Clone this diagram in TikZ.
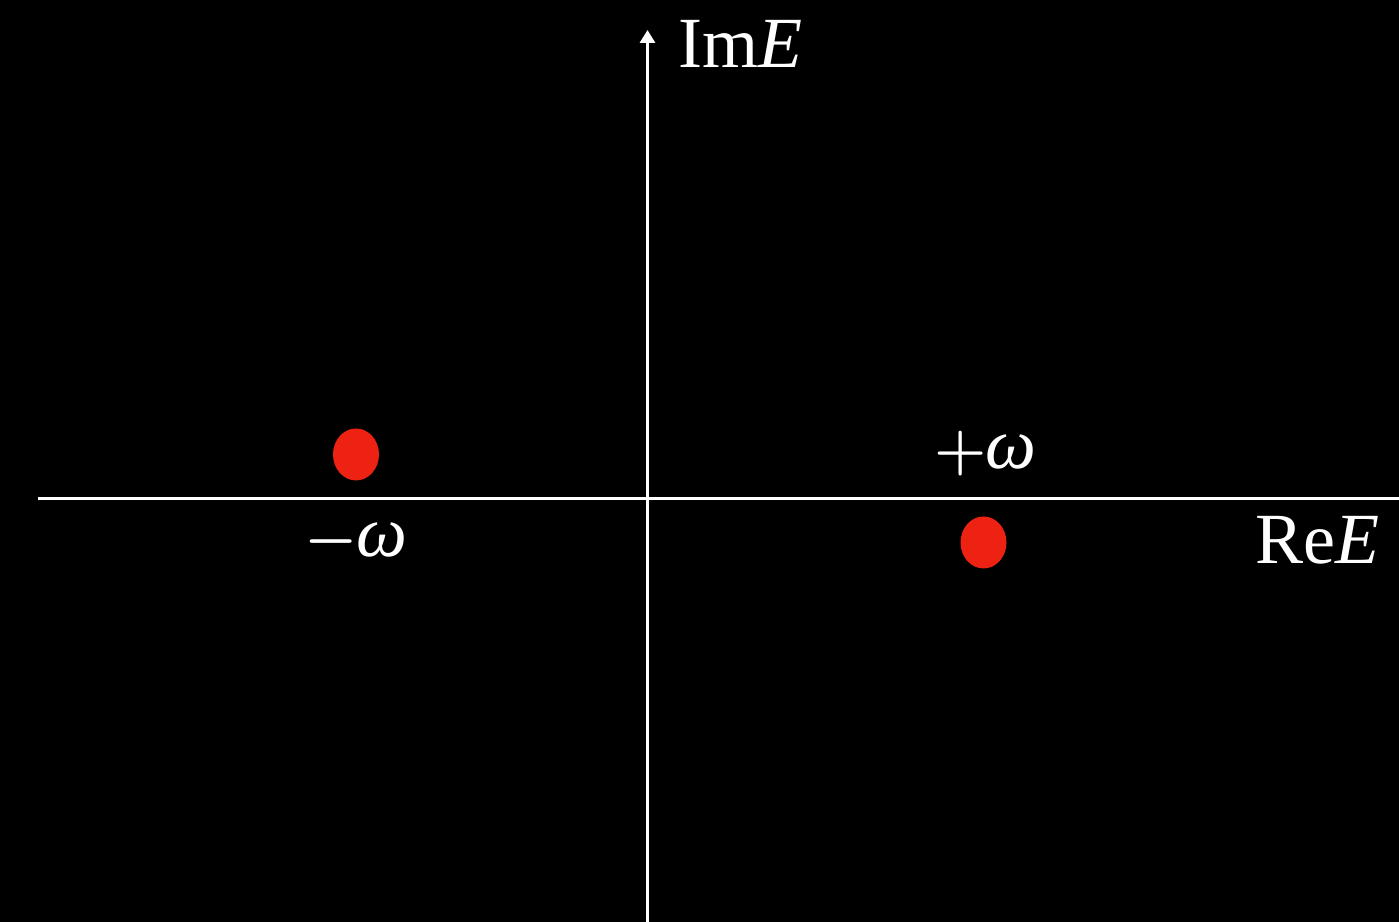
\RequirePackage{fix-cm}
\documentclass[tikz,border=0pt]{standalone}
\usepackage{fontspec}
\setmainfont{Liberation Serif}
\usetikzlibrary{arrows.meta,shapes.geometric}
\definecolor{dotred}{RGB}{238,34,18}
\newcommand{\opsym}[1]{{\fontsize{17}{19}\selectfont\boldmath$#1$}}
\tikzset{
  axis/.style={draw=white,line width=0.85pt},
  pole/.style={ellipse,fill=dotred,draw=none,minimum width=0.46cm,minimum height=0.52cm,inner sep=0pt},
  lbl/.style={text=white,inner sep=0pt,font=\fontsize{20.5}{24}\selectfont}
}
\begin{document}
\begin{tikzpicture}
\useasboundingbox (0,0) rectangle (13.99,9.22);
\fill[black] (0,0) rectangle (13.99,9.22);
\coordinate (xl) at (0.38,4.23);
\coordinate (xr) at (13.99,4.23);
\coordinate (yb) at (6.475,0);
\coordinate (yt) at (6.475,8.92);
\draw[axis] (xl) -- (xr);
\draw[axis,-{Triangle[length=0.13cm,width=0.15cm]}] (yb) -- (yt);
\node[pole] (pm) at (3.56,4.675) {};
\node[pole] (pp) at (9.835,3.795) {};
\node[lbl,anchor=base west] (im) at (6.78,8.54) {Im\textit{E}};
\node[lbl,anchor=base west] (re) at (12.55,3.58) {Re\textit{E}};
\node[lbl,anchor=base west] (mw) at (3.04,3.65) {\opsym{-}\kern-0.5pt\textit{ω}};
\node[lbl,anchor=base west] (pw) at (9.34,4.53) {\opsym{+}\kern-0.5pt\textit{ω}};
\end{tikzpicture}
\end{document}
